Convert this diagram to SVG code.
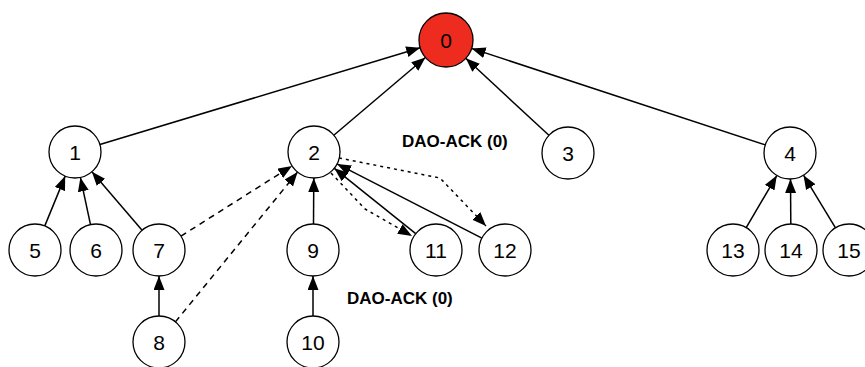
<svg xmlns="http://www.w3.org/2000/svg" width="865" height="367" viewBox="0 0 865 367">
<style>
.node circle{fill:#fff;stroke:#000;stroke-width:1.3}
.node text{font-family:"Liberation Sans",Arial,sans-serif;font-size:21px;text-anchor:middle;fill:#000}
.e{stroke:#000;stroke-width:1.5;fill:none}
.a{marker-end:url(#ah)}
.dash{stroke-dasharray:6,5}
.dot{stroke-dasharray:3,4}
.lbl{font-family:"Liberation Sans",Arial,sans-serif;font-size:17px;font-weight:bold;fill:#000}
</style>
<defs>
<marker id="ah" markerUnits="userSpaceOnUse" markerWidth="15" markerHeight="12" refX="14" refY="5.5" orient="auto">
<path d="M0,0 L14,5.5 L0,11 z" fill="#000"/>
</marker>
</defs>
<rect width="865" height="367" fill="#fff"/>
<g id="connectors">
<line class="e a" x1="99.9" y1="144.5" x2="420.2" y2="47.8"/>
<line class="e a" x1="333.8" y1="135.2" x2="425.4" y2="57.5"/>
<line class="e a" x1="548.9" y1="135.3" x2="465.8" y2="58.3"/>
<line class="e a" x1="765.3" y1="144.9" x2="471.6" y2="48.4"/>
<line class="e a" x1="44.8" y1="225.9" x2="65.2" y2="176.1"/>
<line class="e a" x1="90.5" y1="224.6" x2="80.4" y2="177.4"/>
<line class="e a" x1="142.1" y1="230.3" x2="91.9" y2="171.7"/>
<line class="e a" x1="159" y1="316" x2="159" y2="276"/>
<line class="e a" x1="313" y1="316" x2="313" y2="276"/>
<line class="e a" x1="313.5" y1="224" x2="313.8" y2="178"/>
<line class="e a dash" x1="181" y1="236.1" x2="292" y2="165.9"/>
<line class="e a dash" x1="175.4" y1="321.9" x2="297.6" y2="172.1"/>
<line class="e a" x1="415.7" y1="233.7" x2="334.3" y2="168.3"/>
<line class="e a" x1="481.9" y1="238.1" x2="337.1" y2="163.9"/>
<polyline class="e a dot" points="331,173 365,209 412,236"/>
<polyline class="e a dot" points="339,158 440,178 486,226"/>
<line class="e a" x1="746.2" y1="227.6" x2="776.8" y2="175.6"/>
<line class="e a" x1="790.8" y1="224" x2="790.5" y2="179"/>
<line class="e a" x1="835.5" y1="227.8" x2="803.5" y2="175.2"/>
</g>
<g id="n0" class="node"><circle cx="446" cy="40" r="27" style="fill:#ee2b1f"/><text x="446" y="47.5">0</text></g>
<g id="n1" class="node"><circle cx="75" cy="152" r="26"/><text x="75" y="159.5">1</text></g>
<g id="n2" class="node"><circle cx="314" cy="152" r="26"/><text x="314" y="159.5">2</text></g>
<g id="n3" class="node"><circle cx="568" cy="153" r="26"/><text x="568" y="160.5">3</text></g>
<g id="n4" class="node"><circle cx="790" cy="153" r="26"/><text x="790" y="160.5">4</text></g>
<g id="n5" class="node"><circle cx="35" cy="250" r="26"/><text x="35" y="257.5">5</text></g>
<g id="n6" class="node"><circle cx="96" cy="250" r="26"/><text x="96" y="257.5">6</text></g>
<g id="n7" class="node"><circle cx="159" cy="250" r="26"/><text x="159" y="257.5">7</text></g>
<g id="n8" class="node"><circle cx="159" cy="342" r="26"/><text x="159" y="349.5">8</text></g>
<g id="n9" class="node"><circle cx="313" cy="250" r="26"/><text x="313" y="257.5">9</text></g>
<g id="n10" class="node"><circle cx="313" cy="342" r="26"/><text x="313" y="349.5">10</text></g>
<g id="n11" class="node"><circle cx="436" cy="250" r="26"/><text x="436" y="257.5">11</text></g>
<g id="n12" class="node"><circle cx="505" cy="250" r="26"/><text x="505" y="257.5">12</text></g>
<g id="n13" class="node"><circle cx="733" cy="250" r="26"/><text x="733" y="257.5">13</text></g>
<g id="n14" class="node"><circle cx="791" cy="250" r="26"/><text x="791" y="257.5">14</text></g>
<g id="n15" class="node"><circle cx="849" cy="250" r="26"/><text x="849" y="257.5">15</text></g>
<g id="labels">
<text class="lbl" x="402" y="147">DAO-ACK (0)</text>
<text class="lbl" x="347" y="304">DAO-ACK (0)</text>
</g>
</svg>
